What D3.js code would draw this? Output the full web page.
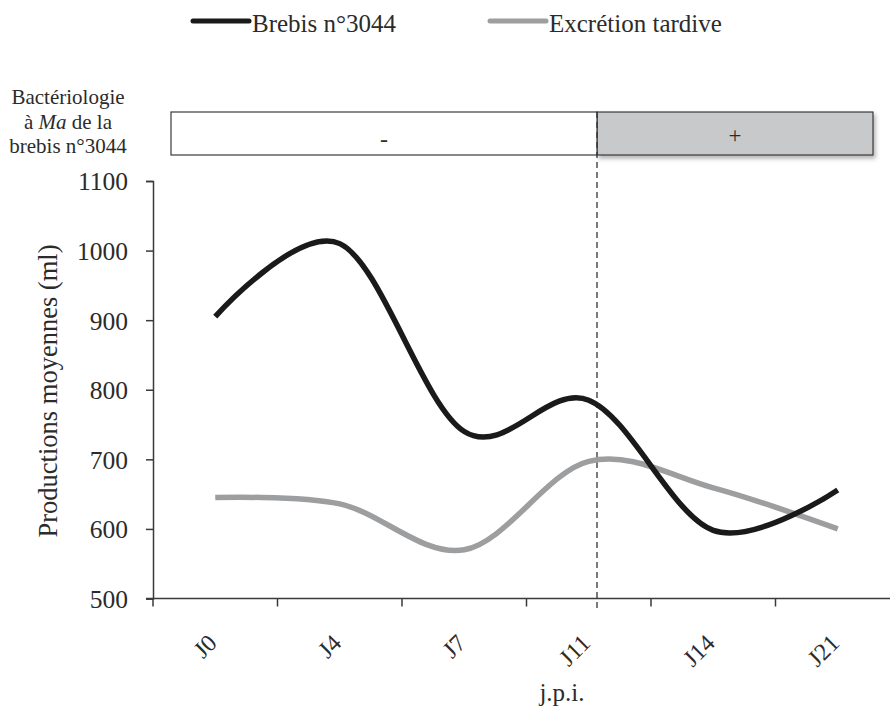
<!DOCTYPE html>
<html><head><meta charset="utf-8">
<script src="https://cdn.jsdelivr.net/npm/d3@7"></script>
<style>body{margin:0;background:#fff}svg{display:block}svg text{font-family:"Liberation Serif","DejaVu Serif",serif !important;fill:#2b2b2b}</style>
</head><body><svg id="c" width="890" height="717"></svg>
<script>
const categories = ["J0","J4","J7","J11","J14","J21"];
const brebis = [905, 1010, 740, 785, 598, 656];
const tardive = [645, 636, 570, 697, 659, 600];
const yTicks = [500,600,700,800,900,1000,1100];
const seriesNames = ["Brebis n°3044","Excrétion tardive"];
const bactLabels = ["-","+"];
const bactLines = ["Bactériologie","à |Ma| de la","brebis n°3044"];

const FONT = "Liberation Serif";
const svg = d3.select("#c");
const x = d3.scaleBand().domain(categories).range([153, 900]);
const y = d3.scaleLinear().domain([500,1100]).range([598.5, 181]);
const axisCol = "#3a3a3a";

// y axis
const ya = svg.append("g").attr("transform","translate(153,0)")
  .call(d3.axisLeft(y).tickValues(yTicks).tickFormat(d3.format("d")).tickSize(7).tickPadding(18))
  .attr("font-family",FONT);
ya.select(".domain").attr("stroke",axisCol).attr("stroke-width",1.5);
ya.selectAll(".tick line").attr("stroke",axisCol).attr("stroke-width",1.5);
ya.selectAll(".tick text").style("font-size","25.5px").attr("fill","#2b2b2b").attr("dy","0.35em");

// x axis (ticks at band boundaries)
const xa = svg.append("g");
xa.append("line").attr("x1",x.range()[0]-7).attr("x2",x.range()[1]).attr("y1",y(500)).attr("y2",y(500))
  .attr("stroke",axisCol).attr("stroke-width",1.5);
const bounds = categories.map(c=>x(c));
xa.selectAll("line.t").data(bounds).join("line").attr("class","t")
  .attr("x1",d=>d).attr("x2",d=>d).attr("y1",y(500)).attr("y2",y(500)+8)
  .attr("stroke",axisCol).attr("stroke-width",1.5);
xa.selectAll("text").data(categories).join("text")
  .attr("transform",d=>`translate(${x(d)+x.bandwidth()/2+3},${y(500)+46}) rotate(-45)`)
  .attr("text-anchor","end").style("font-size","24px").text(d=>d);

svg.append("text").attr("x",562).attr("y",701).attr("text-anchor","middle").style("font-size","25px").text("j.p.i.");
svg.append("text").attr("transform","translate(57,391) rotate(-90)").attr("text-anchor","middle")
  .style("font-size","26.5px").text("Productions moyennes (ml)");

// bacteriology box
const split = 597, boxL = 171, boxR = 873, boxT = 112, boxB = 155;
const defs = svg.append("defs");
const f = defs.append("filter").attr("id","sh").attr("x","-10%").attr("y","-20%").attr("width","130%").attr("height","160%");
f.append("feDropShadow").attr("dx",2).attr("dy",3).attr("stdDeviation",2).attr("flood-color","#000").attr("flood-opacity",0.3);
svg.append("rect").attr("x",split).attr("y",boxT).attr("width",boxR-split).attr("height",boxB-boxT)
  .attr("fill","#c8c9cb").attr("stroke","#3a3a3a").attr("stroke-width",1.2).attr("filter","url(#sh)");
svg.append("rect").attr("x",boxL).attr("y",boxT).attr("width",split-boxL).attr("height",boxB-boxT)
  .attr("fill","#fff").attr("stroke","#3a3a3a").attr("stroke-width",1.2);
svg.append("text").attr("x",(boxL+split)/2).attr("y",147).attr("text-anchor","middle").style("font-size","24px").text(bactLabels[0]);
svg.append("text").attr("x",(split+boxR)/2).attr("y",143).attr("text-anchor","middle").style("font-size","23px").text(bactLabels[1]);
bactLines.forEach((l,i)=>{
  const t = svg.append("text").attr("x",68).attr("y",104+i*24.5).attr("text-anchor","middle").style("font-size","21px");
  l.split("|").forEach((p,j)=>t.append("tspan").style("font-style",j===1?"italic":"normal").text(p));
});
svg.append("line").attr("x1",split).attr("x2",split).attr("y1",boxT).attr("y2",y(500)+10)
  .attr("stroke","#333").attr("stroke-width",1.3).attr("stroke-dasharray","6,4");

// lines
const cx = d=>x(d)+x.bandwidth()/2;
const line = d3.line().x((d,i)=>cx(categories[i])).y(d=>y(d)).curve(d3.curveCatmullRom.alpha(0));
svg.append("path").datum(tardive).attr("d",line).attr("fill","none").attr("stroke","#9d9ea0").attr("stroke-width",5.5);
svg.append("path").datum(brebis).attr("d",line).attr("fill","none").attr("stroke","#1a1a1a").attr("stroke-width",5.5);

// legend
const leg = [{n:seriesNames[0],c:"#1a1a1a",x:193},{n:seriesNames[1],c:"#9d9ea0",x:490}];
leg.forEach(l=>{
  svg.append("line").attr("x1",l.x).attr("x2",l.x+56).attr("y1",21).attr("y2",21).attr("stroke",l.c).attr("stroke-width",5).attr("stroke-linecap","round");
  svg.append("text").attr("x",l.x+59).attr("y",32).style("font-size","25px").text(l.n);
});
</script></body></html>
